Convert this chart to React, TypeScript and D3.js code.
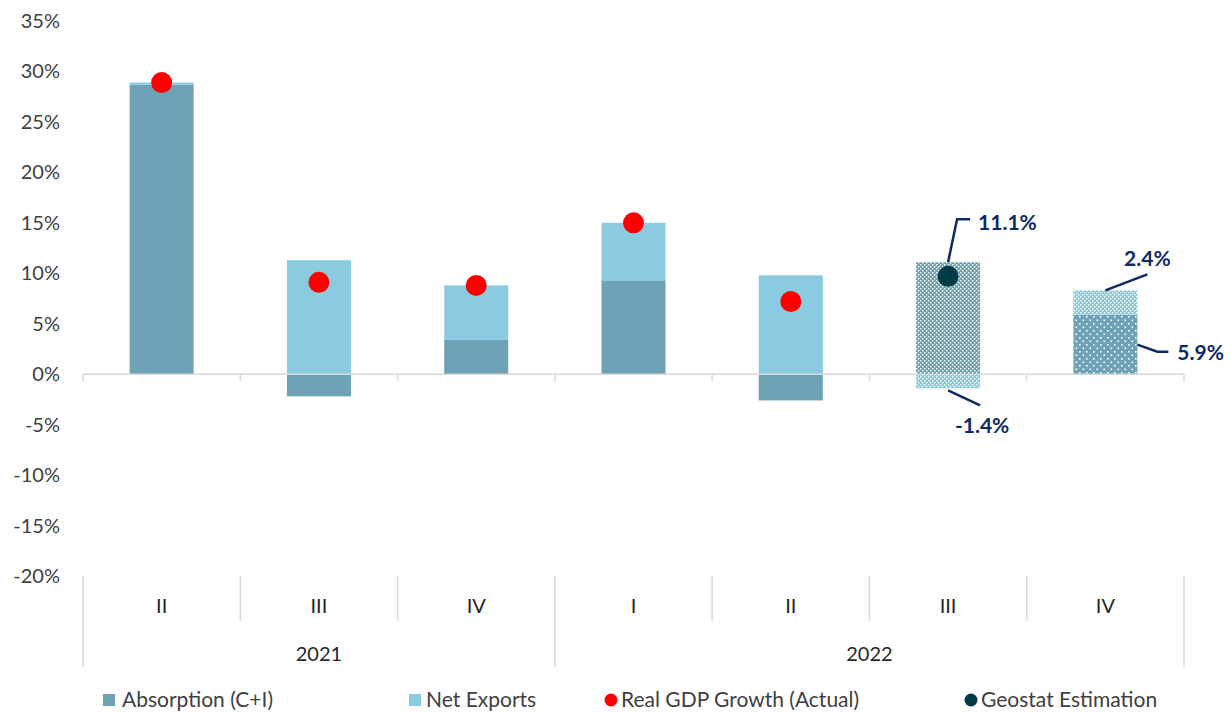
import React from "react";
import * as d3 from "d3";

// quarterly contributions to real GDP growth, %
const quarters = ["II", "III", "IV", "I", "II", "III", "IV"];
const yearLabels = ["2021", "2022"];
const yearSpans = [3, 4];
const absorption = [28.7, -2.2, 3.4, 9.3, -2.6, 11.1, 5.9];
const netExports = [0.2, 11.3, 5.4, 5.7, 9.8, -1.4, 2.4];
const gdpActual: (number | null)[] = [28.9, 9.1, 8.8, 15.0, 7.2, null, null];
const geostatEstimate: (number | null)[] = [null, null, null, null, null, 9.7, null];
const isEstimate = [false, false, false, false, false, true, true];
const yTicks = [35, 30, 25, 20, 15, 10, 5, 0, -5, -10, -15, -20];

const C_ABS = "#6DA2B7";
const C_NX = "#8BCBE2";
const C_RED = "#FF0000";
const C_GEO = "#023A47";
const C_NAVY = "#0E2A66";
const C_GRID = "#D9D9D9";
const FONT = "Lato, 'Open Sans', sans-serif";

export default function App() {
  const width = 1230;
  const height = 712;
  const left = 83;
  const right = 1184;

  const y = d3.scaleLinear().domain([-20, 35]).range([576, 21]);
  const idx = quarters.map((_, i) => String(i));
  const x = d3.scaleBand().domain(idx).range([left, right]).paddingInner(0).paddingOuter(0);
  const bw = x.bandwidth() * 0.407;
  const cx = (i: number) => (x(String(i)) as number) + x.bandwidth() / 2;

  const rows = quarters.map((_, i) => ({ abs: absorption[i], nx: netExports[i] }));
  const stacked = d3
    .stack<{ abs: number; nx: number }>()
    .keys(["abs", "nx"])
    .offset(d3.stackOffsetDiverging)(rows);

  const fmt = (v: number) => `${v.toFixed(1)}%`;

  // segment extents for annotation anchors
  const seg = (k: number, i: number) => stacked[k][i];

  const fillFor = (k: number, i: number) => {
    if (!isEstimate[i]) return k === 0 ? C_ABS : C_NX;
    if (k === 0) return i === 6 ? "url(#dotsAbs)" : "url(#checkAbs)";
    return "url(#checkNx)";
  };

  // year group boundaries
  const groupEdges: number[] = [0];
  yearSpans.forEach((s) => groupEdges.push(groupEdges[groupEdges.length - 1] + s));
  const edgeX = (k: number) => (k < quarters.length ? (x(String(k)) as number) : right);

  // annotations for the estimated quarters
  const iIII = 5;
  const iIV = 6;
  const a111 = seg(0, iIII)[1];
  const a14 = seg(1, iIII)[0];
  const a24 = seg(1, iIV)[1];
  const a59 = seg(0, iIV)[1];

  return (
    <svg width={width} height={height} style={{ display: "block", position: "absolute", left: 0, top: 0 }} fontFamily={FONT}>
      <defs>
        <pattern id="checkAbs" width="4" height="4" patternUnits="userSpaceOnUse">
          <rect width="4" height="4" fill={C_ABS} />
          <rect x="0" y="0" width="1.4" height="1.4" fill="#fff" />
          <rect x="2" y="2" width="1.4" height="1.4" fill="#fff" />
        </pattern>
        <pattern id="checkNx" width="4" height="4" patternUnits="userSpaceOnUse">
          <rect width="4" height="4" fill={C_NX} />
          <rect x="0" y="0" width="1.4" height="1.4" fill="#fff" />
          <rect x="2" y="2" width="1.4" height="1.4" fill="#fff" />
        </pattern>
        <pattern id="dotsAbs" width="7" height="7" patternUnits="userSpaceOnUse">
          <rect width="7" height="7" fill={C_ABS} />
          <rect x="1" y="1" width="1.6" height="1.6" fill="#fff" />
          <rect x="4.5" y="4.5" width="1.6" height="1.6" fill="#fff" />
        </pattern>
      </defs>
      <rect width={width} height={height} fill="#fff" />

      {/* y tick labels */}
      {yTicks.map((t) => (
        <text key={t} x={60} y={y(t)} dy="0.35em" textAnchor="end" fontSize={20} fill="#404040">
          {`${t}%`}
        </text>
      ))}

      {/* bars */}
      {stacked.map((layer, k) =>
        layer.map((d, i) => (
          <rect
            key={`${k}-${i}`}
            x={cx(i) - bw / 2}
            y={y(Math.max(d[0], d[1]))}
            width={bw}
            height={Math.abs(y(d[0]) - y(d[1]))}
            fill={fillFor(k, i)}
          />
        ))
      )}

      {/* zero line + small ticks */}
      <line x1={left} x2={right} y1={y(0)} y2={y(0)} stroke={C_GRID} strokeWidth={1.5} />
      {d3.range(quarters.length + 1).map((k) => (
        <line key={k} x1={edgeX(k)} x2={edgeX(k)} y1={y(0)} y2={y(0) + 7} stroke={C_GRID} strokeWidth={1.5} />
      ))}

      {/* category axis at the bottom */}
      {d3.range(quarters.length + 1).map((k) => {
        const isGroup = groupEdges.includes(k);
        return (
          <line key={k} x1={edgeX(k)} x2={edgeX(k)} y1={576} y2={isGroup ? 667 : 621} stroke={C_GRID} strokeWidth={1.5} />
        );
      })}
      {quarters.map((q, i) => (
        <text key={i} x={cx(i)} y={606} dy="0.35em" textAnchor="middle" fontSize={20} fill="#262626">
          {q}
        </text>
      ))}
      {yearLabels.map((yl, g) => (
        <text
          key={yl}
          x={(edgeX(groupEdges[g]) + edgeX(groupEdges[g + 1])) / 2}
          y={654}
          dy="0.35em"
          textAnchor="middle"
          fontSize={20}
          fill="#262626"
        >
          {yl}
        </text>
      ))}

      {/* real GDP dots */}
      {gdpActual.map((v, i) =>
        v == null ? null : <circle key={i} cx={cx(i)} cy={y(v)} r={10.5} fill={C_RED} />
      )}
      {geostatEstimate.map((v, i) =>
        v == null ? null : <circle key={i} cx={cx(i)} cy={y(v)} r={10.5} fill={C_GEO} />
      )}

      {/* estimate labels */}
      <g stroke={C_NAVY} strokeWidth={2.5} fill="none">
        <polyline points={`${cx(iIII)},${y(a111)} ${cx(iIII) + 9},${y(a111) - 43} ${cx(iIII) + 22},${y(a111) - 43}`} />
        <polyline points={`${cx(iIII)},${y(a14) + 2} ${cx(iIII) + 32},${y(a14) + 17}`} />
        <polyline points={`${cx(iIV)},${y(a24)} ${cx(iIV) + 42},${y(a24) - 16}`} />
        <polyline points={`${cx(iIV) + bw / 2},${y(a59) + 30} ${cx(iIV) + 52},${y(a59) + 37} ${cx(iIV) + 63},${y(a59) + 37}`} />
      </g>
      <g fill={C_NAVY} fontWeight="bold" fontSize={21}>
        <text x={cx(iIII) + 30} y={y(a111) - 40} dy="0.35em">{fmt(absorption[iIII])}</text>
        <text x={cx(iIII) + 34} y={y(a14) + 37} dy="0.35em" textAnchor="middle">{fmt(netExports[iIII])}</text>
        <text x={cx(iIV) + 42} y={y(a24) - 32} dy="0.35em" textAnchor="middle">{fmt(netExports[iIV])}</text>
        <text x={cx(iIV) + 72} y={y(a59) + 38} dy="0.35em">{fmt(absorption[iIV])}</text>
      </g>

      {/* legend */}
      <g fontSize={21} fill="#404040">
        <rect x={103} y={694} width={12} height={12} fill={C_ABS} />
        <text x={122} y={700} dy="0.35em">Absorption (C+I)</text>
        <rect x={409} y={694} width={12} height={12} fill={C_NX} />
        <text x={426} y={700} dy="0.35em">Net Exports</text>
        <circle cx={611} cy={700} r={6.5} fill={C_RED} />
        <text x={621} y={700} dy="0.35em">Real GDP Growth (Actual)</text>
        <circle cx={971} cy={700} r={6.5} fill={C_GEO} />
        <text x={981} y={700} dy="0.35em">Geostat Estimation</text>
      </g>
    </svg>
  );
}
